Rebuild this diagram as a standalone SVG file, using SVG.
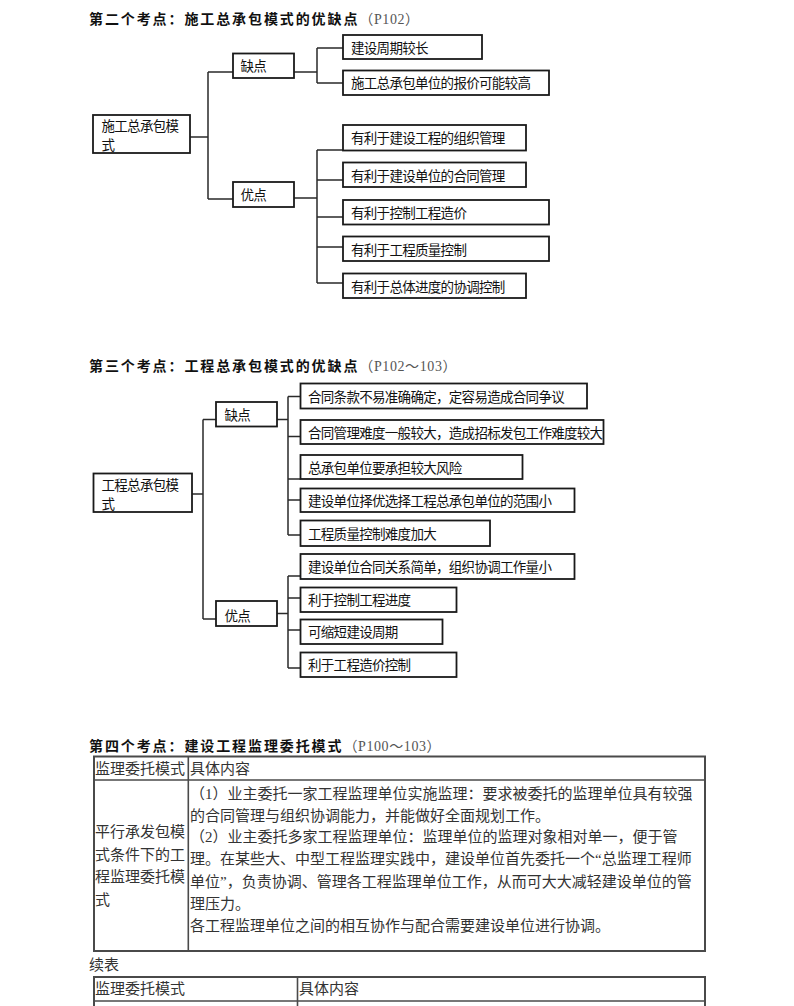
<svg xmlns="http://www.w3.org/2000/svg" width="794" height="1006" viewBox="0 0 794 1006">
<style>
.h{font-family:"Noto Sans CJK SC",sans-serif;font-size:14px;font-weight:bold;letter-spacing:1.9px;fill:#111}
.hp{font-family:"Liberation Serif","Noto Sans CJK SC",serif;font-size:14px;font-weight:normal;letter-spacing:0.6px;fill:#555}
.box{fill:#fff;stroke:#1a1a1a;stroke-width:1.8}
.t{font-family:"Noto Sans CJK SC",sans-serif;font-size:13.5px;letter-spacing:-0.7px;fill:#111}
.con path{fill:none;stroke:#2a2a2a;stroke-width:1.5}
.tb{fill:none;stroke:#4a4a4a;stroke-width:2}
.tl{stroke:#4a4a4a;stroke-width:1.6}
.tt{font-family:"Liberation Serif","Noto Sans CJK SC",serif;font-size:15px;fill:#333}
</style>
<rect width="794" height="1006" fill="#fff"/>

<!-- Headings -->
<text x="89" y="24" class="h">第二个考点：施工总承包模式的优缺点<tspan class="hp">（P102）</tspan></text>
<text x="89" y="371" class="h">第三个考点：工程总承包模式的优缺点<tspan class="hp">（P102～103）</tspan></text>
<text x="89" y="751" class="h">第四个考点：建设工程监理委托模式<tspan class="hp">（P100～103）</tspan></text>

<!-- Connectors -->
<g id="connectors" class="con">
<path d="M190,137H208M208,72V199M208,72H233M208,199H233"/>
<path d="M294,72H317M317,48V83M317,48H343M317,83H343"/>
<path d="M294,198H317M317,150V283M317,150H343M317,180H343M317,217H343M317,247H343M317,283H343"/>
<path d="M192,494H203M203,419.5V619M203,419.5H216M203,619H216"/>
<path d="M277,419.5H288M288,396.5V535M288,396.5H300.5M288,436.5H300.5M288,479H300.5M288,500H300.5M288,535H300.5"/>
<path d="M277,613.5H288M288,576V668M288,576H300.5M288,598H300.5M288,630H300.5M288,668H300.5"/>
</g>

<!-- Tree 1 nodes -->
<g id="n1-root"><rect class="box" x="93" y="115" width="97" height="38"/><text class="t" x="101.5" y="130.5">施工总承包模</text><text class="t" x="101.5" y="150">式</text></g>
<g id="n1-que"><rect class="box" x="233" y="53.5" width="61" height="24.5"/><text class="t" x="240.5" y="71">缺点</text></g>
<g id="n1-you"><rect class="box" x="233" y="182" width="61" height="25"/><text class="t" x="240.5" y="200">优点</text></g>
<g id="n1-q1"><rect class="box" x="343" y="35" width="139" height="24"/><text class="t" x="351" y="52.5">建设周期较长</text></g>
<g id="n1-q2"><rect class="box" x="343" y="70.5" width="206" height="24.5"/><text class="t" x="351" y="88">施工总承包单位的报价可能较高</text></g>
<g id="n1-y1"><rect class="box" x="343" y="125" width="183" height="25.5"/><text class="t" x="351" y="143">有利于建设工程的组织管理</text></g>
<g id="n1-y2"><rect class="box" x="343" y="162.5" width="183" height="24.5"/><text class="t" x="351" y="180.5">有利于建设单位的合同管理</text></g>
<g id="n1-y3"><rect class="box" x="343" y="200" width="206" height="24.5"/><text class="t" x="351" y="218">有利于控制工程造价</text></g>
<g id="n1-y4"><rect class="box" x="343" y="236.5" width="206" height="24.5"/><text class="t" x="351" y="254.5">有利于工程质量控制</text></g>
<g id="n1-y5"><rect class="box" x="343" y="273.5" width="183" height="24.5"/><text class="t" x="351" y="291.5">有利于总体进度的协调控制</text></g>

<!-- Tree 2 nodes -->
<g id="n2-root"><rect class="box" x="93.5" y="473.5" width="98.5" height="38.5"/><text class="t" x="101.5" y="489.5">工程总承包模</text><text class="t" x="101.5" y="509">式</text></g>
<g id="n2-que"><rect class="box" x="216" y="402" width="61" height="24.5"/><text class="t" x="224.5" y="420">缺点</text></g>
<g id="n2-you"><rect class="box" x="216" y="601" width="61" height="25"/><text class="t" x="224.5" y="621">优点</text></g>
<g id="n2-q1"><rect class="box" x="300.5" y="383.5" width="286.5" height="25"/><text class="t" x="308" y="401.5">合同条款不易准确确定，定容易造成合同争议</text></g>
<g id="n2-q2"><rect class="box" x="300.5" y="420" width="303" height="24"/><text class="t" x="308" y="437.5">合同管理难度一般较大，造成招标发包工作难度较大</text></g>
<g id="n2-q3"><rect class="box" x="300.5" y="455" width="222" height="24"/><text class="t" x="308" y="472.5">总承包单位要承担较大风险</text></g>
<g id="n2-q4"><rect class="box" x="300.5" y="488.5" width="274" height="23.5"/><text class="t" x="308" y="505.5">建设单位择优选择工程总承包单位的范围小</text></g>
<g id="n2-q5"><rect class="box" x="300.5" y="520.5" width="189.5" height="25.5"/><text class="t" x="308" y="539">工程质量控制难度加大</text></g>
<g id="n2-y1"><rect class="box" x="300.5" y="554" width="274" height="25"/><text class="t" x="308" y="572">建设单位合同关系简单，组织协调工作量小</text></g>
<g id="n2-y2"><rect class="box" x="300.5" y="587.5" width="156" height="24.5"/><text class="t" x="308" y="605">利于控制工程进度</text></g>
<g id="n2-y3"><rect class="box" x="300.5" y="619.5" width="142" height="24.5"/><text class="t" x="308" y="637">可缩短建设周期</text></g>
<g id="n2-y4"><rect class="box" x="300.5" y="652.5" width="156" height="24.5"/><text class="t" x="308" y="670">利于工程造价控制</text></g>

<!-- Table 1 -->
<g id="table1">
<rect class="tb" x="94" y="756.5" width="611" height="194.5"/>
<line class="tl" x1="94" y1="780" x2="705" y2="780"/>
<line class="tl" x1="188.3" y1="756.5" x2="188.3" y2="951"/>
<text class="tt" x="95" y="773.5">监理委托模式</text>
<text class="tt" x="190" y="773.5">具体内容</text>
<text class="tt" x="95" y="837">平行承发包模</text>
<text class="tt" x="95" y="859.5">式条件下的工</text>
<text class="tt" x="95" y="882">程监理委托模</text>
<text class="tt" x="95" y="904.5">式</text>
<text class="tt" x="190" y="799">（1）业主委托一家工程监理单位实施监理：要求被委托的监理单位具有较强</text>
<text class="tt" x="190" y="820.5">的合同管理与组织协调能力，并能做好全面规划工作。</text>
<text class="tt" x="190" y="842">（2）业主委托多家工程监理单位：监理单位的监理对象相对单一，便于管</text>
<text class="tt" x="190" y="864">理。在某些大、中型工程监理实践中，建设单位首先委托一个“总监理工程师</text>
<text class="tt" x="190" y="886.5">单位”，负责协调、管理各工程监理单位工作，从而可大大减轻建设单位的管</text>
<text class="tt" x="190" y="908.5">理压力。</text>
<text class="tt" x="190" y="930.5">各工程监理单位之间的相互协作与配合需要建设单位进行协调。</text>
</g>
<text class="tt" x="89" y="970">续表</text>

<!-- Table 2 -->
<g id="table2">
<rect class="tb" x="94" y="977" width="611" height="40"/>
<line class="tl" x1="94" y1="1001" x2="705" y2="1001"/>
<line class="tl" x1="297.5" y1="977" x2="297.5" y2="1010"/>
<text class="tt" x="95" y="994">监理委托模式</text>
<text class="tt" x="299" y="994">具体内容</text>
</g>
</svg>
